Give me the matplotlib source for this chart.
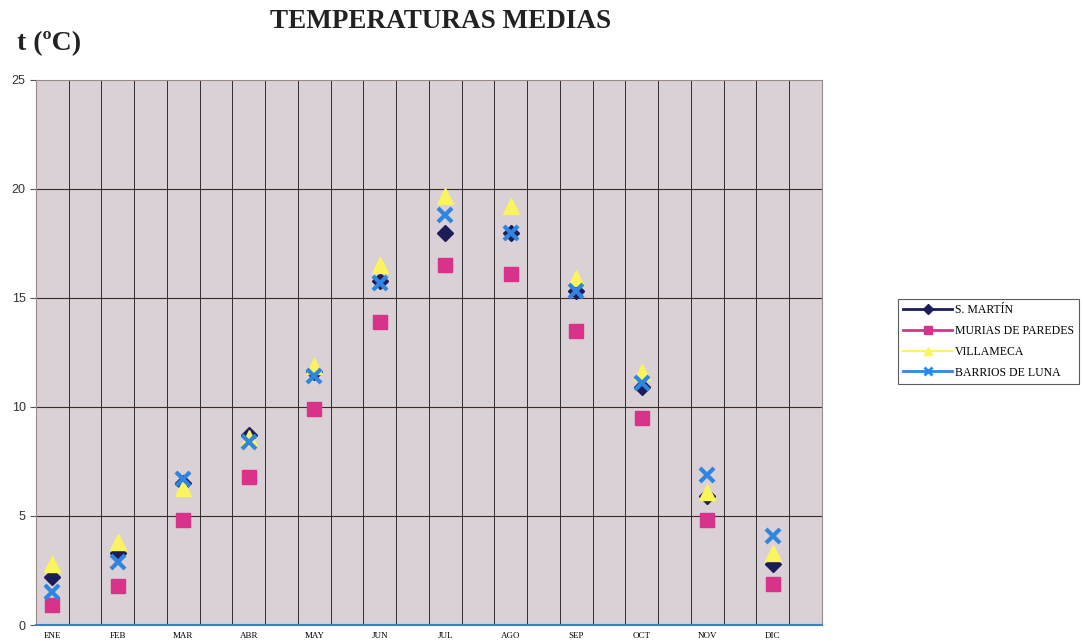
import numpy as np
import matplotlib
matplotlib.use("Agg")
import matplotlib.pyplot as plt

# monthly mean temperatures
months = ["ENE", "FEB", "MAR", "ABR", "MAY", "JUN", "JUL", "AGO", "SEP", "OCT", "NOV", "DIC"]
san_martin = [2.2, 3.3, 6.5, 8.7, 11.6, 15.8, 18.0, 18.0, 15.3, 10.9, 5.9, 2.8]
murias = [0.9, 1.8, 4.8, 6.8, 9.9, 13.9, 16.5, 16.1, 13.5, 9.5, 4.8, 1.9]
villameca = [2.8, 3.8, 6.3, 8.6, 11.9, 16.5, 19.7, 19.2, 15.9, 11.6, 6.1, 3.3]
barrios = [1.5, 2.9, 6.7, 8.4, 11.4, 15.7, 18.8, 18.0, 15.3, 11.1, 6.9, 4.1]

serif = "Liberation Serif"
sans = "Liberation Sans"

fig = plt.figure(figsize=(10.84, 6.44), dpi=100)
fig.patch.set_facecolor("white")
ax = fig.add_axes([0.0332, 0.0295, 0.7251, 0.8463])
ax.set_facecolor("#d9d1d5")

x = np.arange(len(months))
ax.plot(x, san_martin, linestyle="none", marker="D", markersize=8,
        color="#1c1c5a", label="S. MARTÍN", zorder=3)
ax.plot(x, murias, linestyle="none", marker="s", markersize=10,
        color="#d9328a", label="MURIAS DE PAREDES", zorder=3)
ax.plot(x, villameca, linestyle="none", marker="^", markersize=11,
        color="#fbf45e", label="VILLAMECA", zorder=3)
ax.plot(x, barrios, linestyle="none", marker="x", markersize=10,
        markeredgewidth=3, color="#2f86e0", label="BARRIOS DE LUNA", zorder=4)

ax.set_xlim(-0.25, 11.75)
ax.set_ylim(0, 25)
ax.set_yticks(np.arange(0, 26, 5))
ax.set_yticklabels([str(v) for v in range(0, 26, 5)], fontsize=9, family=sans, color="#333333")
ax.set_xticks(x)
ax.set_xticklabels(months, fontsize=6.5, family=serif)
ax.tick_params(axis="x", length=0, pad=5)
ax.tick_params(axis="y", length=4, color="#555555")

# vertical grid every half category, horizontal every 5 degrees
for gx in np.arange(-0.25, 11.8, 0.5):
    ax.axvline(gx, color="#2e2e2e", linewidth=0.7, zorder=1)
for gy in range(5, 25, 5):
    ax.axhline(gy, color="#3a2a2a", linewidth=0.8, zorder=1)
for side in ["top", "right", "left"]:
    ax.spines[side].set_color("#9a8a8a")
    ax.spines[side].set_linewidth(0.8)
ax.spines["bottom"].set_color("#3b7fc4")
ax.spines["bottom"].set_linewidth(1.5)

fig.text(0.406, 0.967, "TEMPERATURAS MEDIAS", ha="center", va="center",
         fontsize=19.5, fontweight="bold", family=serif, color="#222222")
fig.text(0.016, 0.932, "t (ºC)", ha="left", va="center",
         fontsize=20, fontweight="bold", family=serif, color="#222222")

# legend entries drawn as line + marker, like the spreadsheet original
handles = [
    plt.Line2D([], [], color="#1c1c5a", marker="D", markersize=5, linewidth=2),
    plt.Line2D([], [], color="#d9328a", marker="s", markersize=6, linewidth=2),
    plt.Line2D([], [], color="#fbf45e", marker="^", markersize=6, linewidth=1.5),
    plt.Line2D([], [], color="#2f86e0", marker="x", markersize=6, markeredgewidth=2, linewidth=2),
]
labels = ["S. MARTÍN", "MURIAS DE PAREDES", "VILLAMECA", "BARRIOS DE LUNA"]
leg = fig.legend(handles, labels, loc="center left", bbox_to_anchor=(0.828, 0.47),
                 prop={"family": serif, "size": 8.5}, frameon=True, fancybox=False,
                 handlelength=4.2, handletextpad=0.2, labelspacing=0.75,
                 borderpad=0.45, borderaxespad=0)
leg.get_frame().set_edgecolor("#333333")
leg.get_frame().set_linewidth(0.8)

fig.savefig("out.png", dpi=100)
